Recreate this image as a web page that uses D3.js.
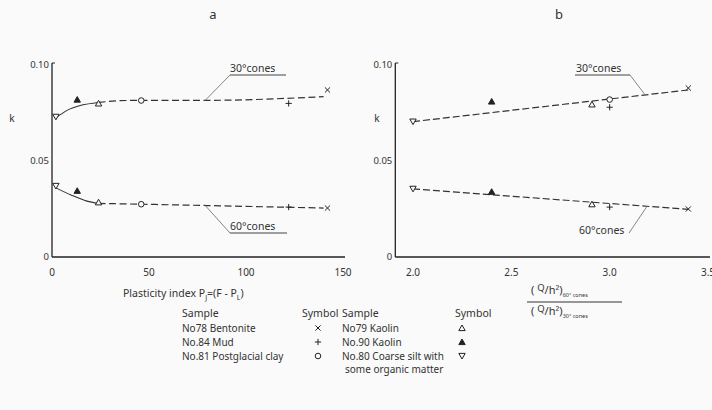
<!DOCTYPE html>
<html lang="en">
<head>
  <meta charset="UTF-8">
  <title>Cone factor k</title>
  <script src="https://d3js.org/d3.v7.min.js"></script>
  <style>
    body { margin: 0; background: #fafafa; }
    svg { display: block; }
    text { font-family: 'Noto Sans', sans-serif; fill: #333; }
  </style>
</head>
<body>
  <script>
    // Samples and their symbols
    const sampleIds = ["78", "84", "81", "79", "90", "80"];
    const sampleNames = ["No78 Bentonite", "No.84 Mud", "No.81 Postglacial clay", "No79  Kaolin", "No.90  Kaolin", "No.80 Coarse silt with"];
    const sampleSymbols = ["cross", "plus", "circle", "triUp", "triFill", "triDown"];

    // Panel a: plasticity index
    const plastIndex = [142, 122, 46, 24, 13, 2];
    const k30a = [0.087, 0.080, 0.0815, 0.080, 0.082, 0.073];
    const k60a = [0.0255, 0.026, 0.0275, 0.0285, 0.0345, 0.037];

    // Panel b: ratio (Q/h2)60 / (Q/h2)30
    const ratio = [3.40, 3.00, 3.00, 2.91, 2.40, 2.00];
    const k30b = [0.088, 0.078, 0.082, 0.0795, 0.081, 0.0705];
    const k60b = [0.025, 0.026, null, 0.0275, 0.034, 0.0355];

    // Fitted curves
    const fit30aSolid = [[2, 0.0725], [8, 0.0765], [15, 0.079], [24, 0.0805]];
    const fit30aDash = [[24, 0.0805], [35, 0.0814], [46, 0.0816], [80, 0.0816], [140, 0.0835]];
    const fit60aSolid = [[2, 0.036], [10, 0.0322], [18, 0.0291], [24, 0.0279]];
    const fit60aDash = [[24, 0.0279], [46, 0.0275], [80, 0.0268], [140, 0.0255]];
    const fit30b = [[2.0, 0.0705], [3.4, 0.087]];
    const fit60b = [[2.0, 0.0355], [3.4, 0.0248]];

    const yTicks = [0, 0.05, 0.10];
    const yTickLabels = ["0", "0.05", "0.10"];
    const xTicksA = [0, 50, 100, 150];
    const xTicksB = [2.0, 2.5, 3.0, 3.5];

    const W = 712, H = 410;
    const svg = d3.select("body").append("svg").attr("width", W).attr("height", H);

    const y = d3.scaleLinear().domain([0, 0.10]).range([257, 65]);
    const xA = d3.scaleLinear().domain([0, 150]).range([52, 343]);
    const xB = d3.scaleLinear().domain([2.0, 3.5]).range([413, 708]);

    function symbolPath(type) {
      const s = 2.6;
      switch (type) {
        case "cross": return `M${-s},${-s}L${s},${s}M${-s},${s}L${s},${-s}`;
        case "plus": return `M${-s - 0.5},0L${s + 0.5},0M0,${-s - 0.5}L0,${s + 0.5}`;
        case "circle": return d3.arc()({ innerRadius: 0, outerRadius: 2.8, startAngle: 0, endAngle: 2 * Math.PI });
        case "triUp":
        case "triFill": return `M0,${-s - 0.4}L${s + 0.6},${s}L${-s - 0.6},${s}Z`;
        case "triDown": return `M0,${s + 0.4}L${s + 0.6},${-s}L${-s - 0.6},${-s}Z`;
      }
    }

    function drawMark(g, type, px, py) {
      g.append("path")
        .attr("d", symbolPath(type))
        .attr("transform", `translate(${px},${py})`)
        .attr("fill", type === "triFill" ? "#222" : (type === "circle" || type.startsWith("tri") ? "#fafafa" : "none"))
        .attr("stroke", "#222")
        .attr("stroke-width", 1);
    }

    const line = (x) => d3.line().x(d => x(d[0])).y(d => y(d[1]));
    const curve = (x) => d3.line().x(d => x(d[0])).y(d => y(d[1])).curve(d3.curveMonotoneX);

    function panel(x, xDomainStart, title, titleX, kX, xTicks, tickFmt) {
      const g = svg.append("g");
      const x0 = x(xDomainStart);
      // axes
      g.append("line").attr("x1", x0).attr("x2", x0).attr("y1", y(0)).attr("y2", y(0.10) - 2)
        .attr("stroke", "#222").attr("stroke-width", 1.3);
      g.append("line").attr("x1", x0).attr("x2", x.range()[1] + 2).attr("y1", y(0)).attr("y2", y(0))
        .attr("stroke", "#222").attr("stroke-width", 1.5);
      g.append("line").attr("x1", x0).attr("x2", x0 + 3).attr("y1", y(0.10) - 2).attr("y2", y(0.10) - 2)
        .attr("stroke", "#222").attr("stroke-width", 1);
      yTicks.forEach((t, i) => {
        g.append("text").attr("x", x0 - 3).attr("y", y(t) + 3).attr("text-anchor", "end")
          .attr("font-size", 9.5).text(yTickLabels[i]);
      });
      xTicks.forEach(t => {
        g.append("text").attr("x", x(t)).attr("y", 276).attr("text-anchor", "middle")
          .attr("font-size", 10).text(tickFmt(t));
      });
      g.append("text").attr("x", titleX).attr("y", 19).attr("text-anchor", "middle")
        .attr("font-size", 13).text(title);
      g.append("text").attr("x", kX).attr("y", 122).attr("text-anchor", "middle")
        .attr("font-size", 10).text("k");
      return g;
    }

    // ---- Panel a
    const ga = panel(xA, 0, "a", 213, 12, xTicksA, d3.format("d"));
    ga.append("path").datum(fit30aSolid).attr("d", curve(xA)).attr("fill", "none").attr("stroke", "#333").attr("stroke-width", 1.1);
    ga.append("path").datum(fit30aDash).attr("d", curve(xA)).attr("fill", "none").attr("stroke", "#333").attr("stroke-width", 1.2).attr("stroke-dasharray", "7,3.5");
    ga.append("path").datum(fit60aSolid).attr("d", curve(xA)).attr("fill", "none").attr("stroke", "#333").attr("stroke-width", 1.1);
    ga.append("path").datum(fit60aDash).attr("d", curve(xA)).attr("fill", "none").attr("stroke", "#333").attr("stroke-width", 1.2).attr("stroke-dasharray", "7,3.5");
    sampleIds.forEach((id, i) => {
      drawMark(ga, sampleSymbols[i], xA(plastIndex[i]), y(k30a[i]));
      drawMark(ga, sampleSymbols[i], xA(plastIndex[i]), y(k60a[i]));
    });

    // ---- Panel b
    const gb = panel(xB, 1.91, "b", 559, 377, xTicksB, d3.format(".1f"));
    gb.append("path").datum(fit30b).attr("d", line(xB)).attr("fill", "none").attr("stroke", "#333").attr("stroke-width", 1.2).attr("stroke-dasharray", "7,3");
    gb.append("path").datum(fit60b).attr("d", line(xB)).attr("fill", "none").attr("stroke", "#333").attr("stroke-width", 1.2).attr("stroke-dasharray", "7,3");
    sampleIds.forEach((id, i) => {
      drawMark(gb, sampleSymbols[i], xB(ratio[i]), y(k30b[i]));
      if (k60b[i] !== null) drawMark(gb, sampleSymbols[i], xB(ratio[i]), y(k60b[i]));
    });

    // ---- Curve labels with leader lines (data units of anchor point)
    const labels = [
      { g: ga, x: xA, text: "30°cones", tx: 230, ty: 72, ux: [230, 286], uy: 75, to: [79, 0.0816], from: [230, 75] },
      { g: ga, x: xA, text: "60°cones", tx: 230, ty: 230, ux: [230, 287], uy: 233, to: [79, 0.0268], from: [230, 233] },
      { g: gb, x: xB, text: "30°cones", tx: 576, ty: 72, ux: [575, 630], uy: 75, to: [3.18, 0.0845], from: [630, 75] },
      { g: gb, x: xB, text: "60°cones", tx: 579, ty: 234, ux: null, uy: 0, to: [3.19, 0.0264], from: [629, 233] }
    ];
    labels.forEach(l => {
      l.g.append("text").attr("x", l.tx).attr("y", l.ty).attr("font-size", 10.5).text(l.text);
      if (l.ux) l.g.append("line").attr("x1", l.ux[0]).attr("x2", l.ux[1]).attr("y1", l.uy).attr("y2", l.uy)
        .attr("stroke", "#444").attr("stroke-width", 1);
      l.g.append("line").attr("x1", l.from[0]).attr("y1", l.from[1])
        .attr("x2", l.x(l.to[0])).attr("y2", y(l.to[1]))
        .attr("stroke", "#777").attr("stroke-width", 0.9);
    });

    // ---- Axis titles
    const xa = svg.append("text").attr("x", 123).attr("y", 297).attr("font-size", 10.5);
    xa.append("tspan").text("Plasticity index  P");
    xa.append("tspan").attr("font-size", 7).attr("dy", 3).text("J");
    xa.append("tspan").attr("dy", -3).text("=(F - P");
    xa.append("tspan").attr("font-size", 7).attr("dy", 3).text("L");
    xa.append("tspan").attr("dy", -3).text(")");

    function fracPart(yy, sub) {
      const t = svg.append("text").attr("x", 531).attr("y", yy).attr("font-size", 11);
      t.append("tspan").text("( ");
      t.append("tspan").attr("font-size", 9.5).attr("dy", -3).text("Q");
      t.append("tspan").attr("dy", 3).text("/");
      t.append("tspan").text("h²");
      t.append("tspan").text(")");
      t.append("tspan").attr("font-size", 5.5).attr("dy", 3).text(sub);
    }
    fracPart(294, "60° cones");
    fracPart(315, "30° cones");
    svg.append("line").attr("x1", 527).attr("x2", 622).attr("y1", 302).attr("y2", 302)
      .attr("stroke", "#333").attr("stroke-width", 1.1);

    // ---- Legend
    const legend = svg.append("g").attr("font-size", 10);
    const colX = [182, 342], symX = [318, 462], headSymX = [302, 455];
    const rowY = [332, 346, 360];
    [0, 1].forEach(c => {
      legend.append("text").attr("x", colX[c]).attr("y", 317).attr("font-size", 10.5).text("Sample");
      legend.append("text").attr("x", headSymX[c]).attr("y", 317).attr("font-size", 10.5).text("Symbol");
    });
    sampleNames.forEach((name, i) => {
      const c = Math.floor(i / 3), r = i % 3;
      legend.append("text").attr("x", colX[c]).attr("y", rowY[r]).text(name);
      drawMark(legend, sampleSymbols[i], symX[c], rowY[r] - 4);
    });
    legend.append("text").attr("x", 345).attr("y", 373).text("some organic matter");
  </script>
</body>
</html>
